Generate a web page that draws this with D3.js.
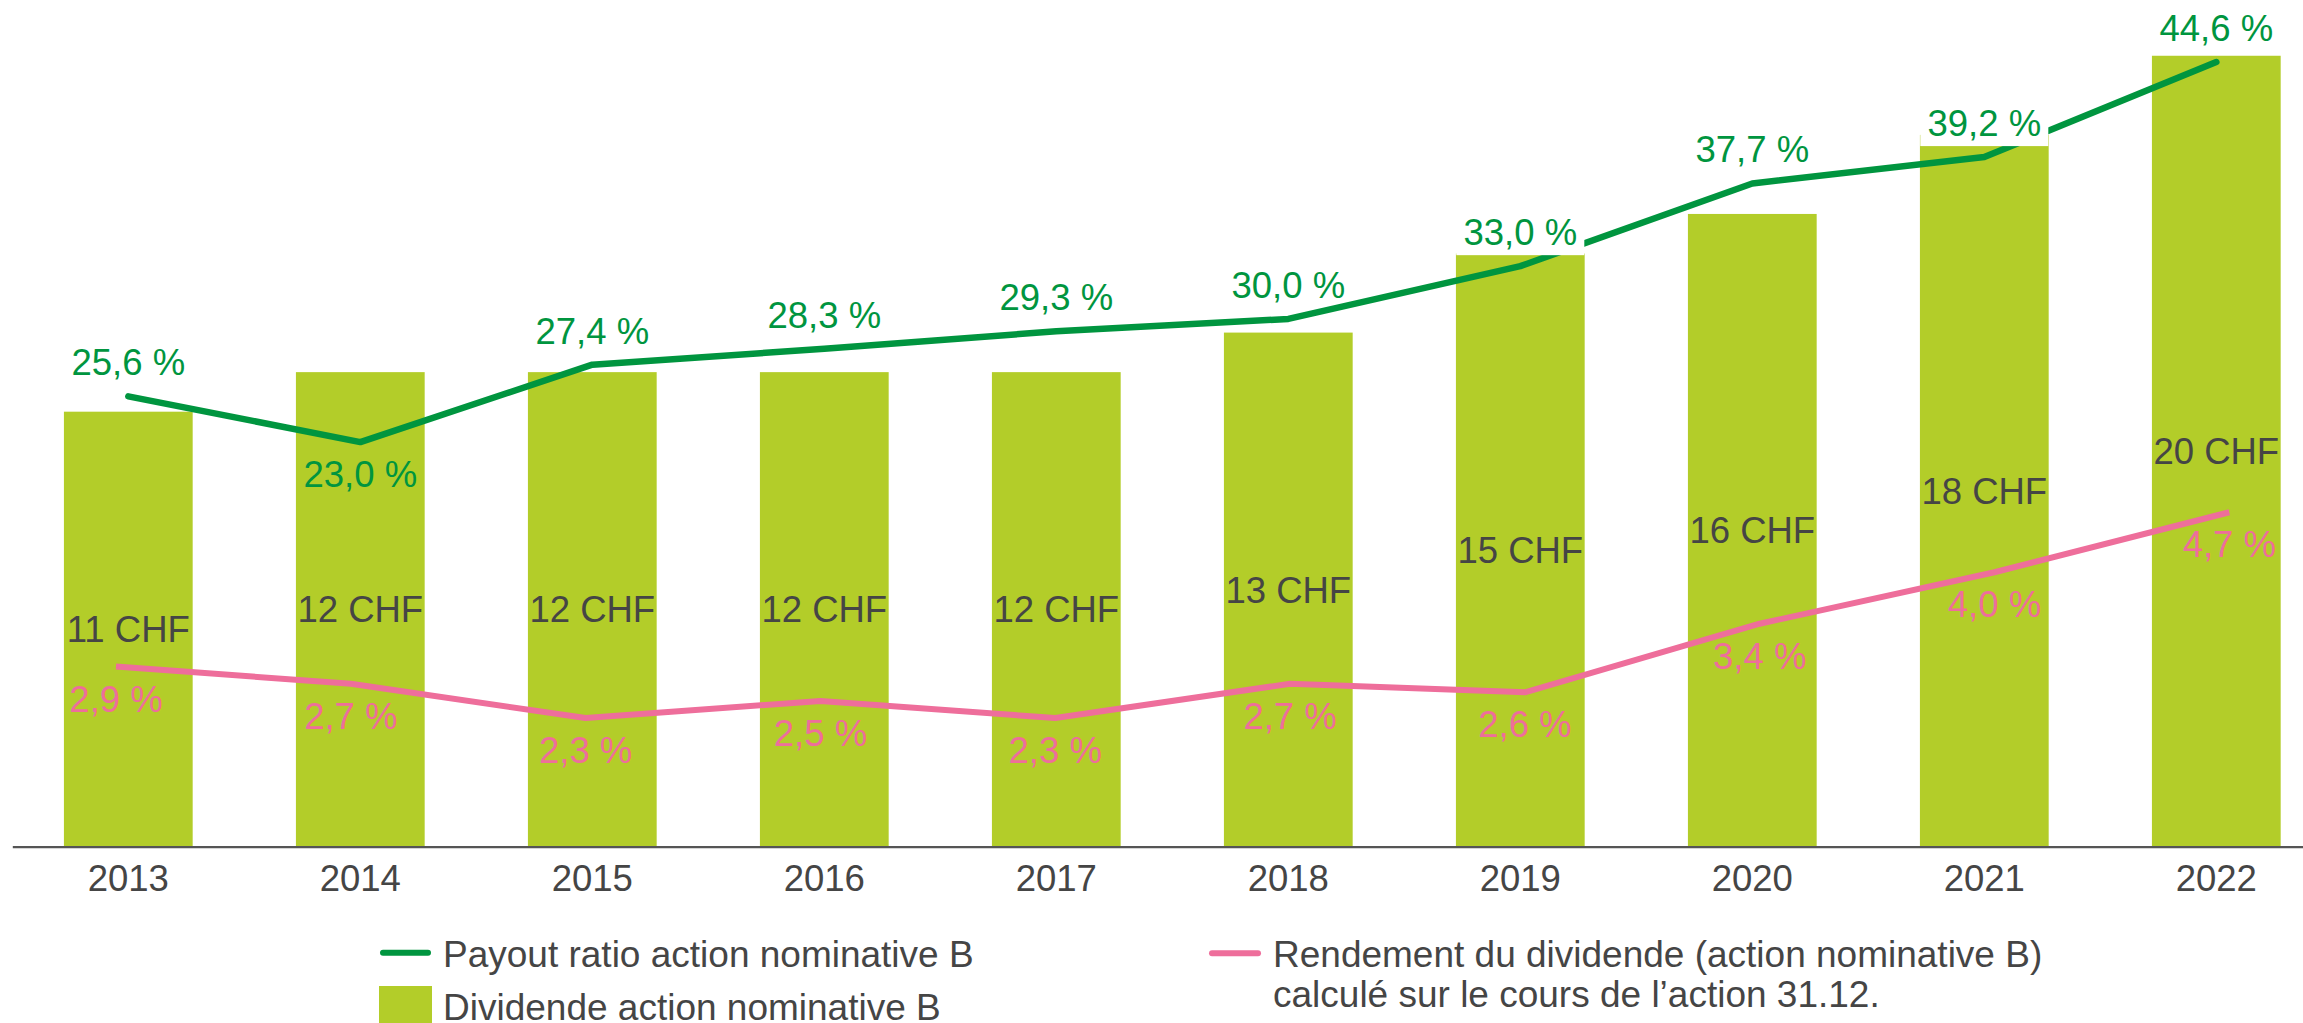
<!DOCTYPE html>
<html>
<head>
<meta charset="utf-8">
<script src="https://cdn.jsdelivr.net/npm/d3@7"></script>
<style>
    body { margin: 0; background: #fff; }
    svg { display: block; font-family: "Liberation Sans", Arial, sans-serif; }
</style>
</head>
<body>
<div id="chart"></div>
<script>
"use strict";

const years = ["2013", "2014", "2015", "2016", "2017", "2018", "2019", "2020", "2021", "2022"];
const dividendCHF = [11, 12, 12, 12, 12, 13, 15, 16, 18, 20];
const payoutRatio = [25.6, 23.0, 27.4, 28.3, 29.3, 30.0, 33.0, 37.7, 39.2, 44.6];
const dividendYield = [2.9, 2.7, 2.3, 2.5, 2.3, 2.7, 2.6, 3.4, 4.0, 4.7];
const payoutBelow = ["2014"];          // label placed under the line
const payoutBoxed = ["2019", "2021"];  // labels with white fill
const legendPayout = "Payout ratio action nominative B";
const legendDividend = "Dividende action nominative B";
const legendYield = ["Rendement du dividende (action nominative B)", "calculé sur le cours de l\u2019action 31.12."];

const W = 2303, H = 1023;
const axisY = 846.7;
const GREEN = "#00953f", PINK = "#ee6e9b", BAR = "#b3cd29", TEXT = "#454545";
const FS = 36.5;

const svg = d3.select("#chart").append("svg")
    .attr("width", W)
    .attr("height", H);

const x = d3.scaleBand()
    .domain(years)
    .range([12.3, 2332.3])
    .paddingInner(0.445)
    .paddingOuter(0.2225);
const xYield = d3.scalePoint()
    .domain(years)
    .range([116, 2229.3]);
const yBar = d3.scaleLinear().domain([0, 21.41]).range([axisY, 0]);
const yPayout = d3.scaleLinear().domain([0, 48.13]).range([axisY, 0]);
const yYield = d3.scaleLinear().domain([0.8, 10.673]).range([axisY, 0]);

const cx = d => x(d) + x.bandwidth() / 2;
const pct = v => v.toFixed(1).replace(".", ",") + " %";

// bars
svg.append("g").selectAll("rect")
    .data(years)
    .join("rect")
    .attr("x", d => x(d))
    .attr("width", x.bandwidth())
    .attr("y", (d, i) => yBar(dividendCHF[i]))
    .attr("height", (d, i) => axisY - yBar(dividendCHF[i]))
    .attr("fill", BAR);

// bar labels, centred in the bar
svg.append("g").selectAll("text")
    .data(years)
    .join("text")
    .attr("x", cx)
    .attr("y", (d, i) => (yBar(dividendCHF[i]) + axisY) / 2 + 13)
    .attr("text-anchor", "middle")
    .attr("font-size", FS)
    .attr("fill", TEXT)
    .text((d, i) => dividendCHF[i] + " CHF");

// axis
const xAxis = d3.axisBottom(x).tickSize(0).tickSizeOuter(0);
const gx = svg.append("g")
    .attr("transform", `translate(0,${axisY})`)
    .call(xAxis);
gx.select(".domain").attr("stroke", "#555").attr("stroke-width", 2.2);
gx.selectAll("text")
    .attr("y", 44.3)
    .attr("dy", 0)
    .attr("font-size", FS)
    .attr("font-family", "Liberation Sans, Arial, sans-serif")
    .attr("fill", TEXT);

// yield line
const yieldLine = d3.line()
    .x(d => xYield(d))
    .y((d, i) => yYield(dividendYield[i]));
svg.append("path")
    .datum(years)
    .attr("d", yieldLine)
    .attr("fill", "none")
    .attr("stroke", PINK)
    .attr("stroke-width", 6)
    .attr("stroke-linejoin", "round");

// payout line
const payoutLine = d3.line()
    .x(cx)
    .y((d, i) => yPayout(payoutRatio[i]));
svg.append("path")
    .datum(years)
    .attr("d", payoutLine)
    .attr("fill", "none")
    .attr("stroke", GREEN)
    .attr("stroke-width", 6.5)
    .attr("stroke-linejoin", "round")
    .attr("stroke-linecap", "round");

// payout labels
const pl = svg.append("g").selectAll("g")
    .data(years)
    .join("g")
    .attr("transform", (d, i) => {
        const below = payoutBelow.includes(d);
        return `translate(${cx(d)},${yPayout(payoutRatio[i]) + (below ? 45 : -21)})`;
    });
pl.filter(d => payoutBoxed.includes(d))
    .append("rect")
    .attr("x", -64)
    .attr("y", -36)
    .attr("width", 128)
    .attr("height", 46)
    .attr("fill", "#fff");
pl.append("text")
    .attr("text-anchor", "middle")
    .attr("font-size", FS)
    .attr("fill", GREEN)
    .text((d, i) => pct(payoutRatio[i]));

// yield labels
svg.append("g").selectAll("text")
    .data(years)
    .join("text")
    .attr("x", d => xYield(d))
    .attr("y", (d, i) => yYield(dividendYield[i]) + 45)
    .attr("text-anchor", "middle")
    .attr("font-size", FS)
    .attr("fill", PINK)
    .text((d, i) => pct(dividendYield[i]));

// legend
const lg = svg.append("g").attr("font-size", 37).attr("fill", TEXT);
lg.append("line")
    .attr("x1", 383).attr("x2", 428)
    .attr("y1", 952.7).attr("y2", 952.7)
    .attr("stroke", GREEN).attr("stroke-width", 6).attr("stroke-linecap", "round");
lg.append("text").attr("x", 443).attr("y", 966.7).text(legendPayout);
lg.append("rect")
    .attr("x", 379).attr("y", 986)
    .attr("width", 53).attr("height", 53)
    .attr("fill", BAR);
lg.append("text").attr("x", 443).attr("y", 1020).text(legendDividend);
lg.append("line")
    .attr("x1", 1212).attr("x2", 1258)
    .attr("y1", 953.3).attr("y2", 953.3)
    .attr("stroke", PINK).attr("stroke-width", 6).attr("stroke-linecap", "round");
lg.append("text").attr("x", 1273).attr("y", 966.7).text(legendYield[0]);
lg.append("text").attr("x", 1273).attr("y", 1007.3).text(legendYield[1]);
</script>
</body>
</html>
